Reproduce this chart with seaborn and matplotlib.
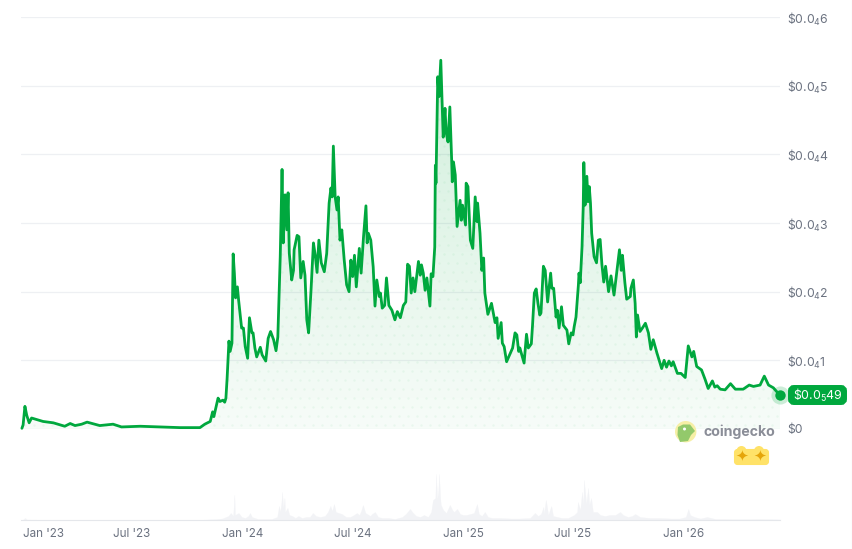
import matplotlib
matplotlib.use("Agg")
import matplotlib.pyplot as plt
import matplotlib.dates as mdates
from matplotlib.patches import Circle, FancyBboxPatch, Polygon
import numpy as np
import pandas as pd
import seaborn as sns

# Price history, in units of 0.00001 USD, by days since 1 Jan 2023
price_days = [-1,1,4,7,11,15,34,51,70,79,87,98,107,128,150,164,195,228,261,294,302,311,315,317,324,327,332,335,337,339,342,344,347,349,351,353,356,358,363,366,369,373,376,380,382,385,388,394,397,403,407,411,416,420,423,427,430,432,435,438,440,442,446,449,450,455,458,461,465,468,471,474,478,482,485,488,491,495,500,504,508,511,513,515,518,521,523,526,529,533,537,541,544,547,550,553,558,561,565,569,571,573,577,581,584,587,591,593,596,600,603,607,612,617,621,626,631,635,638,641,644,647,650,656,659,661,664,667,670,675,677,680,683,684,685,688,690,693,695,697,700,702,705,708,711,712,714,717,720,725,727,729,734,735,738,742,746,750,753,754,758,761,764,766,771,777,783,786,788,793,795,798,802,807,812,816,819,822,824,831,835,838,843,845,848,851,854,857,859,863,866,870,875,877,880,884,886,889,893,896,902,905,909,912,914,917,921,922,924,927,929,930,932,935,937,939,941,943,947,951,954,957,960,963,966,971,975,980,985,989,992,994,998,1001,1007,1008,1012,1015,1017,1019,1023,1027,1032,1037,1041,1045,1051,1059,1063,1067,1071,1075,1078,1085,1091,1098,1103,1106,1109,1112,1117,1125,1131,1136,1143,1147,1151,1156,1164,1173,1181,1194,1204,1211,1222,1229,1236,1244,1255]
price_values = [0.01,0.06,0.33,0.20,0.09,0.16,0.11,0.09,0.04,0.08,0.05,0.07,0.10,0.05,0.07,0.03,0.04,0.03,0.02,0.02,0.07,0.11,0.25,0.18,0.45,0.40,0.42,0.39,0.45,0.74,1.28,1.13,1.25,2.55,2.27,1.91,2.07,1.88,1.47,1.47,1.20,1.03,1.62,1.40,1.40,1.18,1.05,1.19,1.08,0.99,1.32,1.42,1.30,1.14,1.34,2.51,3.78,2.71,3.41,2.90,3.44,2.56,2.17,2.31,2.61,2.82,2.80,2.20,2.44,2.24,1.59,1.40,2.02,2.71,2.53,2.28,2.75,2.42,2.29,2.56,3.29,3.51,3.38,4.12,3.38,3.19,3.38,2.75,2.90,2.46,2.10,2.00,2.46,2.22,2.53,2.07,2.63,2.27,2.80,3.25,2.71,2.85,2.75,2.36,1.79,2.17,1.93,1.98,1.76,1.80,2.20,1.80,1.73,1.59,1.71,1.62,1.80,1.85,2.40,2.37,1.98,2.20,2.00,2.44,2.24,2.39,2.27,2.02,2.20,1.79,2.26,2.22,2.65,3.84,3.58,5.13,4.84,5.37,4.79,4.25,4.67,4.31,4.18,4.69,3.92,3.60,3.89,3.70,2.95,3.33,3.04,3.26,2.97,3.58,3.53,2.75,2.63,3.38,3.02,3.29,2.85,2.31,2.49,1.98,1.67,1.83,1.55,1.62,1.32,1.55,1.25,1.20,0.98,1.08,1.18,1.40,1.37,1.13,1.18,0.96,1.38,1.18,1.24,1.51,1.98,2.04,1.83,1.66,1.69,2.37,2.31,1.85,2.27,2.05,2.05,1.63,1.73,1.47,1.78,1.51,1.44,1.24,1.40,1.37,1.49,1.63,2.10,2.27,2.13,2.65,3.24,3.88,3.26,3.68,3.31,3.53,3.29,2.85,2.51,2.42,2.75,2.76,2.39,2.14,2.37,2.00,2.23,1.95,2.31,2.61,2.31,2.53,2.13,1.89,1.93,2.05,2.17,1.83,1.34,1.66,1.42,1.47,1.54,1.40,1.16,1.30,1.11,0.88,1.00,0.90,0.99,0.92,0.98,0.81,0.81,0.75,1.21,1.13,1.05,1.13,0.91,0.86,0.72,0.59,0.70,0.61,0.63,0.58,0.57,0.66,0.58,0.58,0.64,0.62,0.64,0.77,0.64,0.60,0.49]

# Traded volume, relative scale
volume_days = [0,4,7,29,128,294,319,331,341,345,349,351,352,358,363,369,374,377,380,390,402,413,422,425,427,429,430,432,434,435,439,442,447,452,457,463,470,476,481,486,493,501,506,510,513,516,519,524,529,536,543,549,554,558,561,564,568,571,576,579,584,589,596,606,617,629,635,642,647,652,659,665,672,677,680,684,685,687,689,690,692,693,697,702,705,708,712,715,720,725,730,735,742,748,753,756,761,766,771,778,791,808,824,841,849,854,859,863,864,867,871,876,879,886,894,904,914,919,920,924,927,929,930,934,937,939,942,945,952,957,965,973,982,990,995,1003,1010,1015,1023,1040,1056,1073,1089,1099,1103,1106,1113,1123,1134,1148,1164,1189,1222,1239,1255]
volume_values = [0,2,0.5,0.3,0.2,0.2,0.8,1.5,4,7,4,25,5,7,3,2,4,7,3,1,1,1,3,14,8,18,28,12,22,8,12,5,4,2,4,2,3,3,7,4,3,4,8,14,9,16,8,7,6,3,3,5,7,5,9,15,7,6,4,6,8,3,2,2,1,3,6,11,7,4,3,5,3,8,20,22,46,20,30,46,22,15,10,7,11,15,10,8,11,6,5,5,6,7,16,6,4,8,3,2,2,1.5,1.5,2,7,4,6,13,6,20,5,14,4,3,2,2,5,8,18,10,28,14,40,16,32,15,22,8,8,5,4,5,5,8,5,3,4,6,3,2,2,1.5,1.5,3,11,5,3,1.5,3,1,1,0.8,1,0.8,0.5]

y_ticks = [0, 1, 2, 3, 4, 5, 6]
y_tick_labels = [r"\$0", r"\$0.0$_{4}$1", r"\$0.0$_{4}$2", r"\$0.0$_{4}$3", r"\$0.0$_{4}$4", r"\$0.0$_{4}$5", r"\$0.0$_{4}$6"]
x_tick_dates = ["2023-01-01", "2023-07-01", "2024-01-01", "2024-07-01", "2025-01-01", "2025-07-01", "2026-01-01"]
x_tick_labels = ["Jan '23", "Jul '23", "Jan '24", "Jul '24", "Jan '25", "Jul '25", "Jan '26"]
current_price_label = r"\$0.0$_{5}$49"

GREEN = "#00a83e"
GRID = "#eef0f3"
LABEL = "#6b7280"
W, H = 853, 549

sns.set_style("white")
plt.rcParams["font.family"] = ["Inter", "DejaVu Sans"]
plt.rcParams["mathtext.default"] = "regular"
plt.rcParams["mathtext.fontset"] = "custom"
plt.rcParams["mathtext.rm"] = "Inter"

start = pd.Timestamp("2023-01-01")
prices = pd.DataFrame({"date": start + pd.to_timedelta(price_days, unit="D"), "price": price_values})
volumes = pd.DataFrame({"date": start + pd.to_timedelta(volume_days, unit="D"), "volume": volume_values})
x_limits = (start + pd.Timedelta(days=-2.5), start + pd.Timedelta(days=1255))


def rect(left, top, right, bottom):
    return [left / W, 1 - bottom / H, (right - left) / W, (bottom - top) / H]


fig = plt.figure(figsize=(W / 100, H / 100), dpi=100, facecolor="white")
ax = fig.add_axes(rect(21, 17, 780, 429))
vol_ax = fig.add_axes(rect(21, 465, 780, 520))
overlay = fig.add_axes([0, 0, 1, 1], zorder=5)
overlay.set_xlim(0, W)
overlay.set_ylim(H, 0)
overlay.axis("off")

# Area under the price line: a vertical green fade plus a faint dot pattern
x_num = mdates.date2num(prices["date"])
under_line = Polygon(
    np.column_stack([np.r_[x_num[0], x_num, x_num[-1]], np.r_[0, price_values, 0]]),
    closed=True, facecolor="none", edgecolor="none", transform=ax.transData,
)
ax.add_patch(under_line)
fade = np.zeros((256, 1, 4))
fade[..., :3] = matplotlib.colors.to_rgb(GREEN)
fade[..., 3] = np.linspace(0.2, 0.035, 256)[:, None]
image = ax.imshow(
    fade, aspect="auto", origin="upper", zorder=1,
    extent=(mdates.date2num(x_limits[0]), mdates.date2num(x_limits[1]), 0, 6),
)
image.set_clip_path(under_line)

grid_x, grid_y = np.meshgrid(np.arange(21, 780, 9.0), np.arange(20, 430, 9.0))
grid_x = grid_x + (np.arange(grid_x.shape[0]) % 2)[:, None] * 4.5
dots = ax.scatter(
    grid_x.ravel(), grid_y.ravel(), s=3.2, color=GREEN, alpha=0.05, linewidths=0,
    transform=overlay.transData, zorder=1.5,
)
dots.set_clip_path(under_line)

sns.lineplot(data=prices, x="date", y="price", ax=ax, color=GREEN, linewidth=2.0,
             zorder=3, estimator=None, clip_on=False)
ax.set_xlim(*x_limits)
ax.set_ylim(0, 6)
ax.set_xlabel("")
ax.set_ylabel("")
ax.set_xticks([])
ax.yaxis.tick_right()
ax.set_yticks(y_ticks, y_tick_labels)
ax.tick_params(axis="y", length=0, pad=5, labelsize=8.8, labelcolor=LABEL)
for tick_label in ax.get_yticklabels():
    tick_label.set_verticalalignment("center_baseline")
ax.grid(axis="y", color=GRID, linewidth=0.9, zorder=0)
ax.set_axisbelow(True)
sns.despine(ax=ax, left=True, right=True, top=True, bottom=True)

# Volume strip with the time axis underneath
vol_ax.fill_between(mdates.date2num(volumes["date"]), volumes["volume"], 0,
                    color="#f2f3f6", linewidth=0.2)
vol_ax.set_xlim(*x_limits)
vol_ax.set_ylim(0, 55)
vol_ax.set_yticks([])
vol_ax.set_xticks(pd.to_datetime(x_tick_dates), x_tick_labels)
vol_ax.tick_params(axis="x", length=5.5, width=0.8, color="#e5e7eb", pad=0.5,
                   labelsize=8.4, labelcolor=LABEL)
vol_ax.get_xticklabels()[0].set_ha("left")
sns.despine(ax=vol_ax, left=True, right=True, top=True)
vol_ax.spines["bottom"].set_color("#e5e7eb")
vol_ax.spines["bottom"].set_linewidth(0.8)
vol_ax.patch.set_alpha(0)

# Latest price marker and tag
last_x, last_y = prices["date"].iloc[-1], prices["price"].iloc[-1]
ax.scatter([last_x], [last_y], s=170, color=GREEN, alpha=0.2, linewidths=0, zorder=4, clip_on=False)
ax.scatter([last_x], [last_y], s=56, color=GREEN, linewidths=0, zorder=5, clip_on=False)
overlay.add_patch(FancyBboxPatch((791, 388), 53, 14, boxstyle="round,pad=0,rounding_size=3",
                                 mutation_aspect=1, facecolor=GREEN, edgecolor=GREEN, linewidth=4.3))
overlay.text(817.5, 395, current_price_label, color="white", fontsize=8.9,
             ha="center", va="center")

# Brand mark
overlay.add_patch(Circle((685.7, 431.7), 10.7, facecolor="#f6efa6", edgecolor="none"))
overlay.add_patch(Polygon([(678, 427), (683, 424.5), (690, 424.5), (695, 431), (691, 435), (688, 441), (680, 442), (677.5, 435)],
                          closed=True, facecolor="#93c96b", edgecolor="none"))
overlay.add_patch(Circle((684.5, 429), 1.5, facecolor="#ffffff", edgecolor="none"))
overlay.text(704, 431.5, "coingecko", color="#8b8e98", fontsize=10.2, fontweight="bold", ha="left", va="center")
overlay.add_patch(FancyBboxPatch((735, 450), 33, 14, boxstyle="round,pad=0,rounding_size=2.5",
                                 facecolor="#ffe268", edgecolor="#ffe268", linewidth=1.5))
overlay.add_patch(Circle((741.5, 451), 5, facecolor="#ffe268", edgecolor="none"))
overlay.add_patch(Circle((759, 451), 5, facecolor="#ffe268", edgecolor="none"))
overlay.text(742, 456.5, "✦", color="#e5a50a", fontsize=11, ha="center", va="center", family="DejaVu Sans")
overlay.text(760, 456.5, "✦", color="#e5a50a", fontsize=11, ha="center", va="center", family="DejaVu Sans")

overlay.plot([852, 852], [0, H], color="#eff0f2", linewidth=0.9)

fig.savefig("out.png", dpi=100, facecolor="white")
